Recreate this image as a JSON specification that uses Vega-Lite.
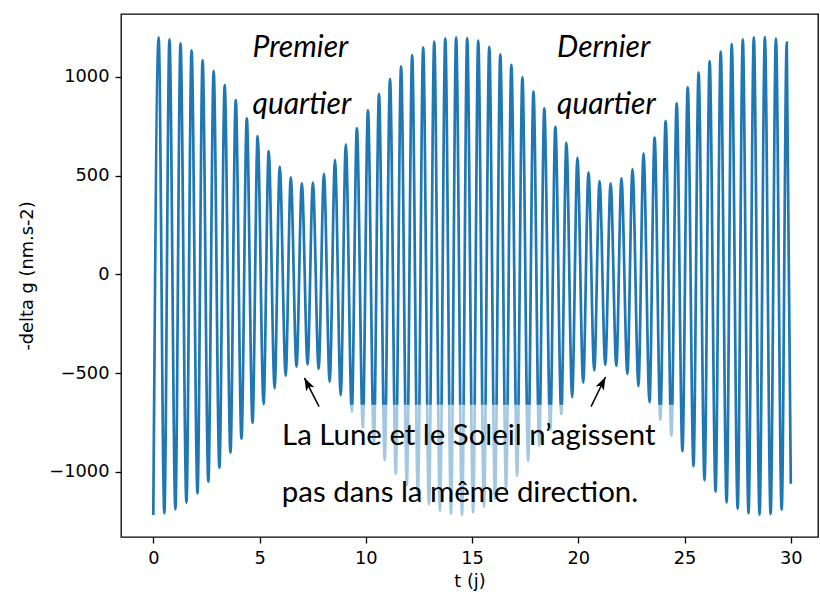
{
  "$schema": "https://vega.github.io/schema/vega-lite/v6.json",
  "width": 697,
  "height": 523,
  "autosize": {"type": "none"},
  "padding": {"left": 121, "top": 14, "right": 2, "bottom": 61},
  "background": "white",
  "config": {
    "view": {"stroke": "#000", "strokeWidth": 1.3},
    "axis": {
      "grid": false, "domain": false, "tickColor": "#000", "tickWidth": 1.3, "tickSize": 6,
      "labelFont": "DejaVu Sans", "labelFontSize": 17.8, "labelColor": "#000", "labelPadding": 6,
      "labelFlush": false, "labelOverlap": false, "labelBound": false,
      "titleFont": "DejaVu Sans", "titleFontSize": 17.8, "titleFontWeight": "normal", "titleColor": "#000"
    }
  },
  "datasets": {
    "signal": [
      {"t":0.00,"v":-1219},{"t":0.25,"v":1200},{"t":0.52,"v":-1210},{"t":0.76,"v":1190},
      {"t":1.04,"v":-1190},{"t":1.28,"v":1170},{"t":1.56,"v":-1156},{"t":1.80,"v":1134},
      {"t":2.08,"v":-1109},{"t":2.32,"v":1085},{"t":2.59,"v":-1050},{"t":2.84,"v":1029},
      {"t":3.11,"v":-979},{"t":3.36,"v":958},{"t":3.63,"v":-903},{"t":3.88,"v":882},
      {"t":4.15,"v":-832},{"t":4.40,"v":790},{"t":4.67,"v":-751},{"t":4.91,"v":700},
      {"t":5.19,"v":-657},{"t":5.43,"v":624},{"t":5.71,"v":-577},{"t":5.95,"v":545},
      {"t":6.23,"v":-513},{"t":6.47,"v":491},{"t":6.74,"v":-468},{"t":6.99,"v":461},
      {"t":7.26,"v":-456},{"t":7.51,"v":464},{"t":7.78,"v":-479},{"t":8.03,"v":509},
      {"t":8.30,"v":-544},{"t":8.55,"v":579},{"t":8.82,"v":-612},{"t":9.06,"v":658},
      {"t":9.34,"v":-696},{"t":9.58,"v":739},{"t":9.86,"v":-775},{"t":10.10,"v":830},
      {"t":10.38,"v":-860},{"t":10.62,"v":913},{"t":10.89,"v":-940},{"t":11.14,"v":989},
      {"t":11.41,"v":-1010},{"t":11.66,"v":1053},{"t":11.93,"v":-1068},{"t":12.18,"v":1110},
      {"t":12.45,"v":-1117},{"t":12.70,"v":1149},{"t":12.97,"v":-1165},{"t":13.22,"v":1178},
      {"t":13.49,"v":-1196},{"t":13.74,"v":1195},{"t":14.01,"v":-1213},{"t":14.25,"v":1200},
      {"t":14.53,"v":-1219},{"t":14.77,"v":1196},{"t":15.05,"v":-1205},{"t":15.29,"v":1183},
      {"t":15.56,"v":-1177},{"t":15.81,"v":1152},{"t":16.08,"v":-1136},{"t":16.33,"v":1114},
      {"t":16.60,"v":-1084},{"t":16.85,"v":1061},{"t":17.12,"v":-1020},{"t":17.37,"v":997},
      {"t":17.64,"v":-945},{"t":17.89,"v":925},{"t":18.16,"v":-868},{"t":18.40,"v":840},
      {"t":18.68,"v":-788},{"t":18.92,"v":747},{"t":19.20,"v":-708},{"t":19.44,"v":666},
      {"t":19.71,"v":-622},{"t":19.96,"v":591},{"t":20.23,"v":-549},{"t":20.48,"v":516},
      {"t":20.75,"v":-487},{"t":21.00,"v":472},{"t":21.27,"v":-459},{"t":21.52,"v":461},
      {"t":21.79,"v":-464},{"t":22.03,"v":486},{"t":22.31,"v":-505},{"t":22.55,"v":533},
      {"t":22.83,"v":-566},{"t":23.07,"v":613},{"t":23.35,"v":-647},{"t":23.59,"v":692},
      {"t":23.86,"v":-736},{"t":24.11,"v":776},{"t":24.38,"v":-817},{"t":24.63,"v":866},
      {"t":24.90,"v":-895},{"t":25.15,"v":947},{"t":25.42,"v":-971},{"t":25.66,"v":1021},
      {"t":25.94,"v":-1042},{"t":26.18,"v":1080},{"t":26.46,"v":-1101},{"t":26.70,"v":1127},
      {"t":26.98,"v":-1155},{"t":27.22,"v":1166},{"t":27.50,"v":-1187},{"t":27.74,"v":1190},
      {"t":28.01,"v":-1210},{"t":28.26,"v":1200},{"t":28.53,"v":-1217},{"t":28.78,"v":1201},
      {"t":29.05,"v":-1214},{"t":29.30,"v":1193},{"t":29.57,"v":-1193},{"t":29.81,"v":1173},
      {"t":30.00,"v":-1060}
    ],
    "italicNotes": [
      {"label":"Premier","t":4.67,"v":1100},
      {"label":"quartier","t":4.67,"v":810},
      {"label":"Dernier","t":19.0,"v":1100},
      {"label":"quartier","t":19.0,"v":810}
    ],
    "plainNotes": [
      {"label":"La Lune et le Soleil n’agissent","t":6.06,"v":-864},
      {"label":"pas dans la même direction.","t":6.05,"v":-1151}
    ],
    "arrows": [
      {"tailT":7.80,"tailV":-670,"tipT":7.11,"tipV":-524},
      {"tailT":20.60,"tailV":-670,"tipT":21.28,"tipV":-520}
    ],
    "one": [{}]
  },
  "layer": [
    {
      "data": {"name": "signal"},
      "mark": {"type": "line", "color": "#1f77b4", "strokeWidth": 2.7, "interpolate": "monotone", "clip": true},
      "encoding": {
        "x": {"field": "t", "type": "quantitative",
              "scale": {"domain": [-1.52, 31.28], "nice": false, "zero": false},
              "axis": {"values": [0,5,10,15,20,25,30], "format": "d", "title": "t (j)", "titlePadding": 6}},
        "y": {"field": "v", "type": "quantitative",
              "scale": {"domain": [-1330, 1318], "nice": false, "zero": false},
              "axis": {"values": [-1000,-500,0,500,1000], "format": "d",
                       "labelExpr": "replace(datum.label, '-', '−')",
                       "title": "-delta g (nm.s-2)", "titlePadding": 12}}
      }
    },
    {
      "data": {"name": "one"},
      "mark": {"type": "rect", "fill": "white", "opacity": 0.6},
      "encoding": {
        "x": {"datum": 9.25, "type": "quantitative"},
        "x2": {"datum": 24.62},
        "y": {"datum": -660, "type": "quantitative"},
        "y2": {"datum": -1300}
      }
    },
    {
      "data": {"name": "italicNotes"},
      "mark": {"type": "text", "font": "Lato", "fontStyle": "italic", "fontSize": 30, "align": "left", "baseline": "alphabetic", "color": "#000"},
      "encoding": {
        "x": {"field": "t", "type": "quantitative"},
        "y": {"field": "v", "type": "quantitative"},
        "text": {"field": "label"}
      }
    },
    {
      "data": {"name": "plainNotes"},
      "mark": {"type": "text", "font": "Lato", "fontSize": 29.4, "align": "left", "baseline": "alphabetic", "color": "#000"},
      "encoding": {
        "x": {"field": "t", "type": "quantitative"},
        "y": {"field": "v", "type": "quantitative"},
        "text": {"field": "label"}
      }
    },
    {
      "data": {"name": "arrows"},
      "mark": {"type": "rule", "color": "#000", "strokeWidth": 1.5},
      "encoding": {
        "x": {"field": "tailT", "type": "quantitative"},
        "y": {"field": "tailV", "type": "quantitative"},
        "x2": {"field": "tipT"},
        "y2": {"field": "tipV"}
      }
    },
    {
      "data": {"name": "one"},
      "mark": {"type": "point", "shape": "M0,0L0.75,2.1L0,1.6L-0.75,2.1Z", "filled": true, "color": "#000", "opacity": 1, "size": 150, "angle": -27},
      "encoding": {
        "x": {"datum": 7.11, "type": "quantitative"},
        "y": {"datum": -524, "type": "quantitative"}
      }
    },
    {
      "data": {"name": "one"},
      "mark": {"type": "point", "shape": "M0,0L0.75,2.1L0,1.6L-0.75,2.1Z", "filled": true, "color": "#000", "opacity": 1, "size": 150, "angle": 27},
      "encoding": {
        "x": {"datum": 21.28, "type": "quantitative"},
        "y": {"datum": -520, "type": "quantitative"}
      }
    }
  ]
}
